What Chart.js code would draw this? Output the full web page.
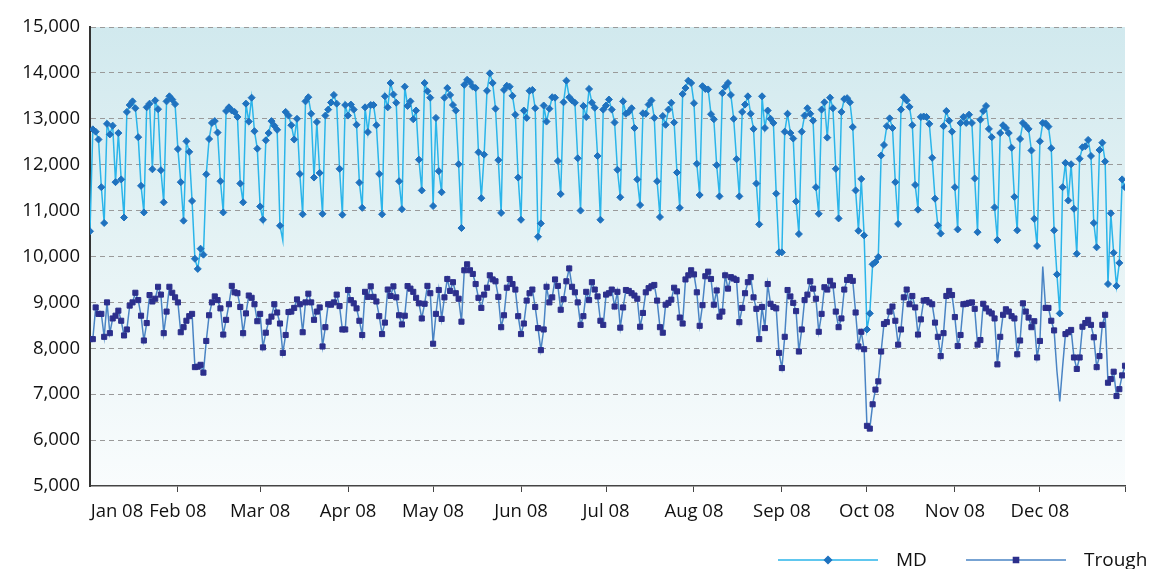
<!DOCTYPE html>
<html>
<head>
<meta charset="utf-8">
<script src="https://cdn.jsdelivr.net/npm/chart.js@4.4.1/dist/chart.umd.min.js"></script>
<style>
    html, body { margin: 0; padding: 0; background: #fff; }
    #wrap { width: 1149px; height: 569px; }
</style>
</head>
<body>
<div id="wrap"><canvas id="chart" width="1149" height="569"></canvas></div>
<script>
// day index (0 = 1 Jan 2008) where each month starts, and its label
const monthStarts = [0, 31, 60, 91, 121, 152, 182, 213, 244, 274, 305, 335, 365];
const monthLabels = ['Jan 08', 'Feb 08', 'Mar 08', 'Apr 08', 'May 08', 'Jun 08', 'Jul 08',
                     'Aug 08', 'Sep 08', 'Oct 08', 'Nov 08', 'Dec 08', ''];
const yTicks = [5000, 6000, 7000, 8000, 9000, 10000, 11000, 12000, 13000, 14000, 15000];

// daily values, one row per month
const mdValues = [
    10550, 12770, 12720, 12550, 11510, 10730, 12890, 12660, 12850, 11620, 12690, 11680, 10850, 13150, 13300, 13380, 13230, 12600, 11540, 10960, 13250, 13330, 11900, 13400, 13210, 11880, 11180, 13380, 13490, 13420, 13320,
    12340, 11620, 10780, 12510, 12280, 11210, 9950, 9730, 10170, 10040, 11790, 12560, 12910, 12950, 12700, 11640, 10960, 13170, 13250, 13180, 13150, 13040, 11590, 11180, 13330, 12940, 13460, 12730, 12350,
    11090, 10800, 12530, 12690, 12950, 12850, 12760, 10670, 10350, 13150, 13070, 12860, 12550, 13000, 11800, 10920, 13380, 13470, 13110, 11720, 12930, 11820, 10930, 13070, 13200, 13355, 13520, 13330, 11910, 10910, 13300,
    13070, 13310, 13200, 12870, 11610, 11060, 13250, 12710, 13300, 13300, 12860, 11800, 10920, 13490, 13250, 13780, 13530, 13350, 11640, 11030, 13700, 13280, 13380, 12990, 13180, 12110, 11440, 13780, 13600, 13460,
    11100, 13020, 11860, 11400, 13460, 13670, 13520, 13300, 13180, 12010, 10620, 13740, 13850, 13800, 13700, 13670, 12270, 11270, 12220, 13610, 13990, 13780, 13220, 12100, 10950, 13630, 13720, 13700, 13500, 13090, 11720,
    10800, 13180, 13020, 13610, 13630, 13230, 10430, 10720, 13290, 12940, 13220, 13470, 13460, 12080, 11360, 13360, 13830, 13470, 13400, 13350, 12140, 11000, 13280, 13040, 13650, 13350, 13240, 12190, 10800, 13200,
    13290, 13420, 13200, 12920, 11890, 11290, 13380, 13110, 13150, 13230, 12800, 11680, 11120, 13120, 13110, 13310, 13400, 13020, 11640, 10860, 13060, 12870, 13200, 13350, 12920, 11830, 11060, 13540, 13670, 13830, 13780,
    13340, 12020, 11340, 13710, 13650, 13640, 13100, 12990, 11990, 11310, 13560, 13700, 13780, 13520, 13000, 12120, 11310, 13150, 13310, 13490, 13110, 12780, 11590, 10700, 13490, 12800, 13180, 13000, 12910, 11370, 10090,
    10090, 12720, 13110, 12690, 12570, 11200, 10490, 12720, 13070, 13230, 13110, 12960, 11510, 10930, 13200, 13360, 12590, 13460, 13230, 11910, 10830, 13150, 13430, 13450, 13360, 12820, 11440, 10560, 11690, 10460,
    8410, 8760, 9830, 9880, 9990, 12200, 12430, 12840, 13010, 12800, 11620, 10710, 13200, 13470, 13400, 13260, 12860, 11560, 11020, 13040, 13050, 13040, 12890, 12150, 11260, 10680, 10500, 12840, 13170, 12960, 12720,
    11510, 10590, 12910, 13040, 12910, 13090, 12910, 11700, 10530, 12980, 13170, 13280, 12780, 12600, 11070, 10360, 12690, 12860, 12800, 12690, 12370, 11300, 10570, 12560, 12910, 12850, 12780, 12310, 10820, 10230,
    12510, 12910, 12900, 12830, 12360, 10570, 9610, 8760, 11510, 12040, 11220, 12010, 11040, 10060, 12130, 12380, 12400, 12540, 12190, 10730, 10200, 12320, 12480, 12070, 9400, 10940, 10080, 9360, 9860, 11680, 11510
];

const troughValues = [
    8200, 8200, 8890, 8750, 8750, 8250, 9000, 8330, 8650, 8710, 8820, 8600, 8280, 8410, 8930, 9000, 9210, 9050, 8710, 8170, 8550, 9160, 9020, 9080, 9340, 9170, 8330, 8800, 9340, 9210, 9110,
    9000, 8350, 8460, 8600, 8700, 8750, 7590, 7600, 7640, 7470, 8160, 8720, 9000, 9130, 9050, 8870, 8300, 8620, 8960, 9360, 9220, 9200, 8900, 8330, 8760, 9150, 9100, 8960, 8590,
    8750, 8020, 8340, 8580, 8690, 8960, 8780, 8540, 7900, 8290, 8790, 8800, 8880, 9065, 8960, 8350, 9000, 9190, 9000, 8620, 8800, 8890, 8040, 8460, 8960, 8950, 9000, 9170, 8920, 8410, 8410,
    9270, 9050, 8980, 8870, 8600, 8290, 9230, 9120, 9350, 9120, 9020, 8700, 8310, 8560, 9280, 9140, 9350, 9110, 8720, 8520, 8710, 9355, 9300, 9230, 9100, 8980, 8650, 8970, 9360, 9200,
    8100, 8750, 9270, 8640, 9110, 9510, 9250, 9440, 9200, 9080, 8580, 9700, 9830, 9700, 9620, 9400, 9100, 8880, 9170, 9320, 9590, 9500, 9460, 9120, 8460, 8720, 9320, 9510, 9400, 9280, 8700,
    8310, 8540, 9040, 9200, 9280, 8900, 8440, 7960, 8410, 9340, 9000, 9110, 9500, 9360, 8840, 9070, 9460, 9740, 9340, 9220, 9000, 8510, 8700, 9230, 9050, 9440, 9280, 9130, 8600, 8510,
    9170, 9200, 9280, 8910, 9230, 8450, 8890, 9270, 9250, 9200, 9150, 9080, 8470, 8770, 9220, 9310, 9350, 9380, 9040, 8460, 8340, 8950, 8990, 9060, 9320, 9240, 8670, 8540, 9500, 9590, 9700,
    9610, 9220, 8490, 8940, 9570, 9670, 9510, 8950, 9260, 8690, 8800, 9590, 9300, 9550, 9520, 9490, 8570, 8880, 9200, 9440, 9550, 9110, 8860, 8200, 8900, 8440, 9400, 8970, 8900, 8870, 7900,
    7570, 8250, 9270, 9130, 8990, 8810, 7930, 8410, 9050, 9170, 9460, 9300, 9080, 8360, 8750, 9330, 9280, 9470, 9370, 8800, 8460, 8650, 9280, 9490, 9550, 9470, 8780, 8040, 8360, 7980,
    6310, 6250, 6780, 7100, 7280, 7930, 8530, 8570, 8800, 8910, 8600, 8080, 8410, 9110, 9280, 8960, 9140, 8890, 8300, 8630, 9040, 9050, 9000, 8960, 8560, 8250, 7830, 8330, 9140, 9250, 9160,
    8680, 8050, 8290, 8960, 8970, 8990, 9000, 8860, 8080, 8180, 8970, 8870, 8800, 8760, 8650, 7650, 8250, 8730, 8850, 8800, 8700, 8650, 7870, 8170, 8980, 8800, 8670, 8460, 8590, 7800,
    8160, 9780, 8880, 8880, 8600, 8390, 7500, 6840, 7600, 8310, 8350, 8400, 7800, 7550, 7800, 8470, 8550, 8620, 8510, 8240, 7590, 7830, 8510, 8730, 7250, 7330, 7490, 6960, 7110, 7410, 7620
];

// days drawn by the line but without a marker
const mdUnmarked = [68];
const troughUnmarked = [336, 341, 342, 343];

const FONT = '"Open Sans", "DejaVu Sans", sans-serif';
const MD_LINE = '#2bb5ea', MD_MARK = '#1f72bf';
const TR_LINE = '#4a84c4', TR_MARK = '#2c2f8c';

const plotBackground = {
    id: 'plotBackground',
    beforeDraw(chart) {
        const { ctx, chartArea: a } = chart;
        const g = ctx.createLinearGradient(0, a.top, 0, a.bottom);
        g.addColorStop(0, '#d1e9ee');
        g.addColorStop(0.5, '#e6f3f5');
        g.addColorStop(1, '#f9fcfd');
        ctx.save();
        ctx.fillStyle = g;
        ctx.fillRect(a.left, a.top, a.right - a.left, a.bottom - a.top);
        ctx.restore();
    }
};

// line + marker legend under the plot, right side
const lineLegend = {
    id: 'lineLegend',
    afterDraw(chart) {
        const ctx = chart.ctx;
        const y = 560;
        const items = [
            { label: 'MD', x: 778, line: MD_LINE, mark: MD_MARK, style: 'rectRot', r: 3.5 },
            { label: 'Trough', x: 966, line: TR_LINE, mark: TR_MARK, style: 'rect', r: 3.6 }
        ];
        ctx.save();
        items.forEach(it => {
            ctx.strokeStyle = it.line;
            ctx.lineWidth = 1.5;
            ctx.beginPath();
            ctx.moveTo(it.x, y);
            ctx.lineTo(it.x + 100, y);
            ctx.stroke();
            ctx.fillStyle = it.mark;
            ctx.strokeStyle = it.mark;
            Chart.helpers.drawPoint(ctx, { pointStyle: it.style, radius: it.r, borderWidth: 1 }, it.x + 50, y);
            ctx.fillStyle = '#111';
            ctx.font = '19px ' + FONT;
            ctx.textBaseline = 'alphabetic';
            ctx.fillText(it.label, it.x + 118, 566);
        });
        ctx.restore();
    }
};

const ctx = document.getElementById('chart').getContext('2d');
new Chart(ctx, {
    type: 'line',
    data: {
        datasets: [{
            label: 'MD',
            data: mdValues.map((v, i) => ({ x: i, y: v })),
            borderColor: MD_LINE,
            borderWidth: 1.5,
            pointStyle: 'rectRot',
            pointRadius: c => mdUnmarked.includes(c.dataIndex) ? 0 : 3.5,
            pointBackgroundColor: MD_MARK,
            pointBorderColor: MD_MARK,
            pointBorderWidth: 1,
            tension: 0
        }, {
            label: 'Trough',
            data: troughValues.map((v, i) => ({ x: i, y: v })),
            borderColor: TR_LINE,
            borderWidth: 1.5,
            pointStyle: 'rect',
            pointRadius: c => troughUnmarked.includes(c.dataIndex) ? 0 : 3.6,
            pointBackgroundColor: TR_MARK,
            pointBorderColor: TR_MARK,
            pointBorderWidth: 1,
            tension: 0
        }]
    },
    options: {
        responsive: false,
        animation: false,
        layout: { padding: { top: 27, right: 24, left: 0, bottom: 0 } },
        plugins: {
            legend: { display: false },
            tooltip: { enabled: false }
        },
        scales: {
            x: {
                type: 'linear',
                min: 0,
                max: 365,
                afterBuildTicks: scale => {
                    // the first label sits a little right of the axis, as in the original
                    scale.ticks = monthStarts.map((d, i) => ({ value: i === 0 ? 9.5 : d }));
                },
                afterFit: scale => { scale.height = 83; },
                ticks: {
                    autoSkip: false,
                    maxRotation: 0,
                    padding: 9,
                    color: '#111',
                    font: { family: FONT, size: 18.5 },
                    callback: (value, index) => monthLabels[index]
                },
                grid: {
                    drawOnChartArea: false,
                    drawTicks: true,
                    tickLength: 6,
                    tickColor: c => (c.index === 0 ? 'rgba(0,0,0,0)' : '#444'),
                    tickWidth: 1
                },
                border: { display: true, color: '#444', width: 1.5 }
            },
            y: {
                min: 5000,
                max: 15000,
                afterBuildTicks: scale => {
                    scale.ticks = yTicks.map(v => ({ value: v }));
                },
                afterFit: scale => { scale.width = 90; },
                ticks: {
                    padding: 10,
                    color: '#111',
                    font: { family: FONT, size: 18.5 },
                    callback: v => v.toLocaleString('en-US')
                },
                grid: {
                    drawTicks: false,
                    color: c => (c.tick && c.tick.value === 5000 ? 'rgba(0,0,0,0)' : '#9a9a9a'),
                    lineWidth: 1
                },
                border: { display: true, color: '#333', width: 2, dash: [5, 4] }
            }
        }
    },
    plugins: [plotBackground, lineLegend]
});
</script>
</body>
</html>
